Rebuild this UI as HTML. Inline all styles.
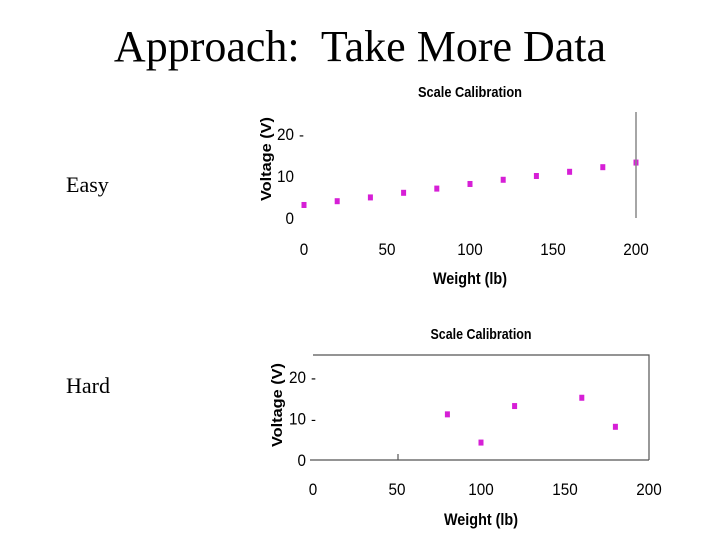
<!DOCTYPE html>
<html><head><meta charset="utf-8"><style>
body{margin:0;background:#fff;width:720px;height:540px;overflow:hidden;position:relative;font-family:"Liberation Sans",sans-serif}
.t{position:absolute;white-space:nowrap}
</style></head><body>
<div class="t" style="left:0;width:720px;text-align:center;top:22px;font:44px 'Liberation Serif',serif;line-height:50px">Approach:&nbsp; Take More Data</div>
<div class="t" style="left:66px;top:172px;font:22px 'Liberation Serif',serif">Easy</div>
<div class="t" style="left:66px;top:373px;font:22px 'Liberation Serif',serif">Hard</div>
<svg id="s" width="720" height="540" style="position:absolute;left:0;top:0"></svg>
<script>
const xTicks=[0,50,100,150,200];
const yTicks=[0,10,20];
const easyX=[0,20,40,60,80,100,120,140,160,180,200];
const easyY=[3.1,4.0,4.9,6.0,7.0,8.1,9.1,10,11,12.1,13.2];
const hardX=[80,100,120,160,180];
const hardY=[11,4.2,13,15,8.0];
const NS='http://www.w3.org/2000/svg';
const svg=document.getElementById('s');
function mk(tag,a,txt){const e=document.createElementNS(NS,tag);for(const k in a)e.setAttribute(k,a[k]);if(txt!=null)e.textContent=txt;svg.appendChild(e);return e;}
function chart(c,xs,ys,pre){
  const sx=v=>c.x0+(c.x1-c.x0)*v/200, sy=v=>c.y0-(c.y0-c.y20)*v/20;
  let e=mk('text',{x:(c.x0+c.x1)/2,y:c.titleY,'text-anchor':'middle','font-size':15,'font-weight':'bold',textLength:c.titleW,lengthAdjust:'spacingAndGlyphs'},'Scale Calibration');
  
  e=mk('text',{x:0,y:0,transform:`translate(${c.yTitleX},${c.yTitleY}) rotate(-90)`,'text-anchor':'middle','font-size':15,'font-weight':'bold',textLength:84,lengthAdjust:'spacingAndGlyphs'},'Voltage (V)');
  
  e=mk('text',{x:(c.x0+c.x1)/2,y:c.xtY,'text-anchor':'middle','font-size':17,'font-weight':'bold',textLength:74,lengthAdjust:'spacingAndGlyphs'},'Weight (lb)');
  
  xTicks.forEach(v=>{const t=mk('text',{x:sx(v),y:c.xlY,'text-anchor':'middle','font-size':17,textLength:String(v).length*8.5,lengthAdjust:'spacingAndGlyphs'},v);
    });
  yTicks.forEach(v=>{const t=mk('text',{x:c.ylX,y:sy(v)+6,'text-anchor':'end','font-size':17,textLength:String(v).length*8.5,lengthAdjust:'spacingAndGlyphs'},v);
    
    if(v>0&&(pre==='hard'||v===20)){const d=mk('text',{x:c.ylX+5,y:sy(v)+6,'font-size':15},'-');
      }});
  xs.forEach((v,i)=>{const r=mk('rect',{x:sx(v)-2.5,y:sy(ys[i])-3,width:5,height:6,fill:'#d61fd6'});
    });
}
chart({x0:304,x1:636,y0:218,y20:134,titleY:97,titleW:104,xlY:255,xtY:284,ylX:294,yTitleX:271,yTitleY:159},easyX,easyY,'easy');
let l=mk('line',{x1:636,y1:112,x2:636,y2:218,stroke:'#888','stroke-width':1.5});

chart({x0:313,x1:649,y0:460,y20:377,titleY:339,titleW:101,xlY:495,xtY:525,ylX:306,yTitleX:282,yTitleY:405},hardX,hardY,'hard');
l=mk('path',{d:'M313,355H649V460M310,460H649M398,460v-6',fill:'none',stroke:'#555','stroke-width':1.2});

</script>
</body></html>
